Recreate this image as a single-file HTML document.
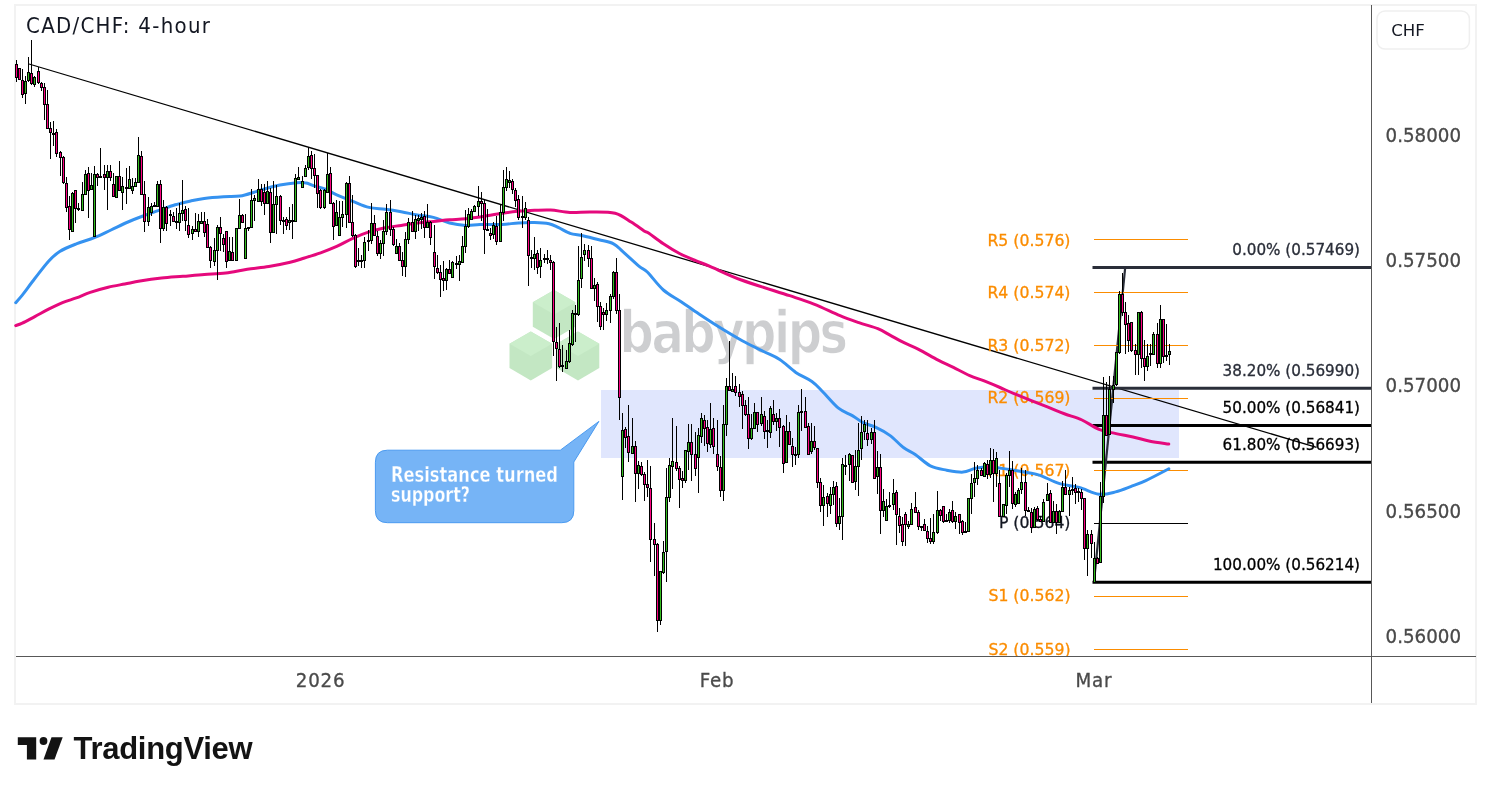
<!DOCTYPE html>
<html><head><meta charset="utf-8"><title>CAD/CHF: 4-hour</title>
<style>
html,body{margin:0;padding:0;background:#fff;}
body{width:1491px;height:794px;overflow:hidden;position:relative;}
svg{position:absolute;left:0;top:0;display:block;}
.ax{font-family:"DejaVu Sans Condensed","DejaVu Sans",sans-serif;font-stretch:condensed;font-size:20.3px;fill:#4a4a4a;stroke:#4a4a4a;stroke-width:0.3px;}
.fib{font-family:"DejaVu Sans",sans-serif;font-size:15.2px;stroke-width:0.3px;}
.piv{font-family:"DejaVu Sans",sans-serif;font-size:15.7px;fill:#fb8c00;stroke:#fb8c00;stroke-width:0.3px;}
</style></head>
<body>
<svg width="1491" height="794" viewBox="0 0 1491 794">
<rect x="0" y="0" width="1491" height="794" fill="#fff"/>
<rect x="15" y="5" width="1461" height="699" fill="#fff" stroke="#f2f2f2" stroke-width="2"/>
<!-- watermark -->
<g>
 <g fill="#c3e7c3">
  <polygon points="554.1,290 575.4,302.3 575.4,326.7 554.1,339 532.8,326.7 532.8,302.3"/>
  <polygon points="530.8,331.4 552.1,343.7 552.1,368.1 530.8,380.4 509.5,368.1 509.5,343.7"/>
  <polygon points="578,331.4 599.3,343.7 599.3,368.1 578,380.4 556.7,368.1 556.7,343.7"/>
 </g>
 <g fill="#cbeecb">
  <polygon points="554.1,290 575.4,302.3 554.1,314.6 532.8,302.3"/>
  <polygon points="530.8,331.4 552.1,343.7 530.8,356 509.5,343.7"/>
  <polygon points="578,331.4 599.3,343.7 578,356 556.7,343.7"/>
 </g>
 <text x="619.3" y="353" textLength="226" lengthAdjust="spacingAndGlyphs" style="font-family:'DejaVu Sans',sans-serif;font-weight:bold;font-size:58px;fill:#cdced0;stroke:#fff;stroke-width:1.6px;stroke-linejoin:round;letter-spacing:-3.5px">babypips</text>
</g>
<!-- zone -->
<rect x="601" y="390" width="578" height="68" fill="#e0e6fd"/>
<!-- trendline -->
<line x1="29" y1="64" x2="1316.5" y2="447.4" stroke="#000" stroke-width="1.3"/>
<!-- fib -->
<g stroke-width="3">
 <line x1="1092.5" y1="267.5" x2="1371" y2="267.5" stroke="#2a2e39"/>
 <line x1="1092.5" y1="388.3" x2="1371" y2="388.3" stroke="#2a2e39"/>
 <line x1="1092.5" y1="425.4" x2="1371" y2="425.4" stroke="#000"/>
 <line x1="1092.5" y1="462.3" x2="1371" y2="462.3" stroke="#000"/>
 <line x1="1092.5" y1="582.2" x2="1371" y2="582.2" stroke="#000"/>
</g>
<line x1="1094" y1="581.8" x2="1125.2" y2="267.4" stroke="#2a2e39" stroke-width="2.2"/>
<!-- pivots -->
<g stroke="#fb8c00" stroke-width="1">
 <line x1="1094" y1="239.5" x2="1188" y2="239.5"/>
 <line x1="1094" y1="292.5" x2="1188" y2="292.5"/>
 <line x1="1094" y1="345.5" x2="1188" y2="345.5"/>
 <line x1="1094" y1="398.5" x2="1188" y2="398.5"/>
 <line x1="1094" y1="470.5" x2="1188" y2="470.5"/>
 <line x1="1094" y1="596.5" x2="1188" y2="596.5"/>
 <line x1="1094" y1="649.5" x2="1188" y2="649.5"/>
</g>
<line x1="1094" y1="523.5" x2="1188" y2="523.5" stroke="#000" stroke-width="1"/>
<g class="piv" text-anchor="end">
 <text x="1070.5" y="245.9">R5 (0.576)</text>
 <text x="1070.5" y="297.7">R4 (0.574)</text>
 <text x="1070.5" y="350.9">R3 (0.572)</text>
 <text x="1070.5" y="403">R2 (0.569)</text>
 <text x="1070.5" y="476.1">R1 (0.567)</text>
 <text x="1070.5" y="528.4" style="fill:#131722;stroke:#131722">P (0.564)</text>
 <text x="1070.5" y="600.9">S1 (0.562)</text>
 <text x="1070.5" y="654.5">S2 (0.559)</text>
</g>
<!-- MAs -->
<path d="M15.7 302.7 C16.8 301.4 19.1 299.1 22.3 295.1 C25.5 291.1 30.4 284.1 34.8 278.5 C39.2 272.9 44.5 265.7 48.6 261.2 C52.8 256.7 55.1 254.4 59.7 251.5 C64.3 248.6 70.5 246.2 76.3 243.9 C82.1 241.6 88.6 239.9 94.4 237.6 C100.2 235.3 105.6 232.5 111 230 C116.4 227.5 121.5 224.8 126.8 222.5 C132.1 220.2 137.6 218 143 216 C148.4 214 153.6 212.3 159 210.4 C164.4 208.5 169.8 206.4 175.2 204.8 C180.6 203.2 186.5 201.9 191.3 200.8 C196.1 199.7 198.8 199.1 204.2 198.4 C209.6 197.7 217.5 197.1 223.5 196.7 C229.5 196.3 234.6 196.9 240 196.1 C245.4 195.2 250.7 193.2 256.1 191.6 C261.5 190 266.8 188 272.2 186.7 C277.6 185.4 283 184.5 288.4 183.8 C293.8 183.1 300.2 182.3 304.5 182.7 C308.8 183 310.6 184.8 314.1 185.9 C317.6 187 321.6 187.7 325.4 189.2 C329.2 190.7 332.1 192.8 336.7 194.8 C341.3 196.8 347.4 199.2 352.8 201.3 C358.2 203.4 363.6 206.1 369 207.4 C374.4 208.7 379.7 208.6 385.1 209.3 C390.5 210 395.8 210.8 401.2 211.7 C406.6 212.6 411.9 214.1 417.3 215 C422.7 215.9 428 216.1 433.4 217.4 C438.8 218.7 444.1 221.7 449.5 223 C454.9 224.3 460.6 225.1 465.7 225.4 C470.8 225.7 473.9 224.8 480 224.6 C486.1 224.4 495.8 224.8 502.2 224.5 C508.6 224.2 513 223.2 518.4 222.9 C523.8 222.6 529.4 222.4 534.5 222.5 C539.6 222.6 545 222.8 549 223.7 C553 224.6 555.2 226.1 558.7 227.7 C562.2 229.3 565.9 232 569.9 233.3 C573.9 234.7 577.9 234.7 582.8 235.8 C587.6 236.9 593.9 238.5 599 239.8 C604.1 241.1 609.5 241.8 613.5 243.8 C617.5 245.8 618.8 248.1 623.1 251.9 C627.4 255.7 635.2 263 639.2 266.4 C643.2 269.8 643.3 268.1 647.3 272 C651.3 275.9 657.8 285.1 663.4 290 C669 294.9 675.2 297.7 681.1 301.7 C687 305.7 692.4 309.6 699 314 C705.6 318.4 713.5 323.6 720.7 328 C727.9 332.4 735.1 336.8 742.2 340.7 C749.4 344.6 757.4 348.4 763.6 351.5 C769.9 354.6 774.3 356 779.7 359.5 C785.1 363 790.4 368.7 795.8 372.4 C801.2 376.1 807.4 378.3 811.9 381.5 C816.4 384.7 818.3 387.2 822.7 391.7 C827.1 396.1 833.6 404.2 838.5 408.2 C843.4 412.2 848.2 413.2 852.3 415.6 C856.4 418 859.1 420.6 863 422.6 C866.9 424.6 871.4 425.3 875.9 427.4 C880.4 429.5 885.1 432 889.8 435.4 C894.4 438.8 899.6 444.6 903.8 447.8 C908 451 910.8 451.4 915.2 454.4 C919.6 457.4 925 463.2 930.3 465.8 C935.5 468.4 941.2 469.1 946.7 470.2 C952.2 471.2 958.2 472.4 963 472.1 C967.8 471.8 971 469.2 975.6 468.3 C980.2 467.4 985.1 466.8 990.8 467 C996.5 467.2 1003.3 468.7 1009.6 469.6 C1015.9 470.6 1023.4 471.8 1028.5 472.7 C1033.6 473.6 1034.8 473.5 1040 475.3 C1045.2 477.1 1053 481.6 1059.6 483.6 C1066.1 485.6 1072.8 485.6 1079.3 487.4 C1085.8 489.2 1092.9 493.4 1098.9 494.2 C1105 494.9 1110.3 493.2 1115.6 491.9 C1120.9 490.6 1125.7 488.5 1130.7 486.6 C1135.7 484.7 1139.5 483.6 1145.8 480.6 C1152.1 477.6 1165 470.8 1168.8 468.8" fill="none" stroke="#3592f0" stroke-width="3" stroke-linejoin="round" stroke-linecap="round"/>
<path d="M15.7 325.6 C16.8 325.2 19.1 324.6 22.3 323.1 C25.5 321.6 30.4 318.9 34.8 316.6 C39.2 314.3 44 311.5 48.6 309.2 C53.2 306.9 57.9 304.6 62.5 302.7 C67.1 300.8 71.7 299.6 76.3 297.9 C80.9 296.2 84.9 294.1 90.2 292.3 C95.5 290.5 102.4 288.6 108.2 287.2 C114 285.8 119.5 285 124.8 284 C130.1 283 133.9 282.1 140 281.1 C146.1 280.1 154.3 278.9 161.5 278.1 C168.7 277.3 175.8 276.9 182.9 276.3 C190.1 275.7 197.2 275 204.4 274.5 C211.6 274 218.7 274 225.8 273.1 C233 272.2 240.1 270.4 247.3 269.3 C254.5 268.2 261.7 267.8 268.8 266.6 C275.9 265.4 284.2 263.7 290.2 262.3 C296.1 260.9 299.4 259.6 304.5 258 C309.6 256.4 315.2 254.7 320.6 252.8 C326 250.9 331.3 248.8 336.7 246.4 C342.1 244 347.4 240.7 352.8 238.3 C358.2 235.9 363.6 233.7 369 231.9 C374.4 230.2 379.7 228.9 385.1 227.8 C390.5 226.7 395.8 226.2 401.2 225.4 C406.6 224.6 411.9 223.7 417.3 223 C422.7 222.3 428 221.9 433.4 221.4 C438.8 220.9 444.1 220.2 449.5 219.8 C454.9 219.4 460.6 219.2 465.7 218.7 C470.8 218.2 473.9 217.9 480 217 C486.1 216.1 495.8 214.1 502.2 213.2 C508.6 212.2 513 211.8 518.4 211.3 C523.8 210.8 529.1 210.5 534.5 210.3 C539.9 210.1 544.7 209.7 550.6 210 C556.5 210.3 563.2 212.1 569.9 212.4 C576.6 212.7 583.4 211.8 590.9 211.9 C598.4 212 608.4 211.5 615.1 213.2 C621.8 214.9 626.4 219.1 631.2 222.1 C636 225.1 641.2 229 644.1 230.9 C647 232.8 645.7 231.2 648.9 233.3 C652.1 235.5 658.3 240.4 663.4 243.8 C668.5 247.2 674.1 250.7 679.5 253.5 C684.9 256.3 690.6 258.6 695.7 260.7 C700.8 262.8 702.4 263.2 710 266.4 C717.6 269.6 728.1 275.1 741.4 280 C754.7 284.9 777.6 291.7 789.7 295.7 C801.8 299.7 805.5 300.8 813.9 304.1 C822.3 307.4 832.5 312.6 840 315.7 C847.5 318.8 852.6 320.5 858.9 322.7 C865.2 324.9 872.5 326.6 877.8 328.7 C883 330.8 886.2 333.1 890.4 335.3 C894.6 337.6 898.4 339.9 903 342.2 C907.6 344.5 912.2 346.1 918.1 349.1 C924 352.1 932.3 357.1 938.2 360.2 C944.1 363.2 948.1 364.8 953.4 367.4 C958.6 370 964.5 373.3 969.7 375.6 C974.9 377.9 979.8 379.2 984.8 381.2 C989.8 383.2 995.1 385.4 1000 387.5 C1004.9 389.6 1006 390.3 1014 393.6 C1022 396.9 1039.5 403.8 1048 407.2 C1056.5 410.6 1059.3 411.9 1065 414 C1070.7 416.1 1076.3 417.4 1082 420 C1087.7 422.6 1093.3 427 1099 429.3 C1104.7 431.6 1110.3 432.3 1116 433.6 C1121.7 434.9 1127.3 435.7 1133 437 C1138.7 438.3 1144 440 1150 441.2 C1156 442.4 1165.7 443.6 1168.8 444.1" fill="none" stroke="#e5097c" stroke-width="3" stroke-linejoin="round" stroke-linecap="round"/>
<!-- candles -->
<path fill="#000" d="M16 60h1v22h-1zM19 68h1v12h-1zM22 69h1v29h-1zM25 76h1v28h-1zM28 57h1v25h-1zM31 40h1v45h-1zM34 76h1v11h-1zM38 67h1v17h-1zM41 82h1v9h-1zM44 83h1v37h-1zM47 90h1v38h-1zM50 122h1v37h-1zM53 121h1v25h-1zM56 129h1v28h-1zM60 151h1v25h-1zM63 156h1v28h-1zM66 177h1v35h-1zM69 196h1v44h-1zM72 192h1v39h-1zM75 190h1v33h-1zM78 203h1v8h-1zM82 182h1v28h-1zM85 170h1v24h-1zM88 167h1v51h-1zM91 173h1v16h-1zM94 166h1v70h-1zM97 173h1v13h-1zM100 148h1v29h-1zM104 165h1v25h-1zM107 165h1v45h-1zM110 165h1v16h-1zM113 173h1v23h-1zM116 176h1v21h-1zM119 161h1v29h-1zM122 177h1v33h-1zM126 168h1v36h-1zM129 166h1v22h-1zM132 178h1v16h-1zM135 178h1v8h-1zM138 137h1v45h-1zM141 151h1v43h-1zM144 181h1v51h-1zM148 197h1v29h-1zM151 203h1v13h-1zM154 202h1v4h-1zM157 181h1v25h-1zM160 180h1v63h-1zM163 200h1v31h-1zM166 206h1v25h-1zM170 210h1v16h-1zM173 212h1v10h-1zM176 208h1v21h-1zM179 203h1v28h-1zM182 180h1v41h-1zM185 206h1v25h-1zM188 208h1v30h-1zM192 226h1v14h-1zM195 213h1v18h-1zM198 214h1v23h-1zM201 212h1v11h-1zM204 212h1v25h-1zM207 219h1v28h-1zM210 246h1v22h-1zM214 238h1v28h-1zM217 225h1v55h-1zM220 217h1v34h-1zM223 234h1v18h-1zM226 231h1v37h-1zM229 237h1v23h-1zM232 237h1v23h-1zM236 228h1v33h-1zM239 199h1v29h-1zM242 214h1v8h-1zM245 214h1v44h-1zM248 227h1v4h-1zM251 189h1v38h-1zM254 195h1v26h-1zM258 179h1v22h-1zM261 184h1v22h-1zM264 184h1v31h-1zM267 181h1v22h-1zM270 188h1v55h-1zM273 181h1v51h-1zM276 185h1v49h-1zM280 195h1v30h-1zM283 217h1v17h-1zM286 217h1v13h-1zM289 207h1v23h-1zM292 204h1v35h-1zM295 174h1v47h-1zM298 167h1v12h-1zM302 176h1v11h-1zM305 165h1v11h-1zM308 147h1v23h-1zM311 151h1v28h-1zM314 154h1v34h-1zM317 175h1v33h-1zM320 189h1v20h-1zM324 189h1v20h-1zM327 153h1v39h-1zM330 167h1v36h-1zM333 202h1v38h-1zM336 200h1v25h-1zM339 201h1v34h-1zM342 201h1v26h-1zM346 182h1v46h-1zM349 176h1v46h-1zM352 195h1v42h-1zM355 234h1v34h-1zM358 248h1v18h-1zM361 255h1v13h-1zM364 237h1v31h-1zM368 230h1v21h-1zM371 203h1v41h-1zM374 215h1v20h-1zM377 231h1v25h-1zM380 240h1v19h-1zM383 220h1v36h-1zM386 204h1v31h-1zM390 200h1v36h-1zM393 227h1v19h-1zM396 239h1v14h-1zM399 243h1v17h-1zM402 252h1v24h-1zM405 232h1v45h-1zM408 218h1v26h-1zM412 211h1v20h-1zM415 215h1v24h-1zM418 215h1v16h-1zM421 213h1v16h-1zM424 211h1v27h-1zM427 204h1v23h-1zM430 221h1v24h-1zM434 225h1v54h-1zM437 255h1v19h-1zM440 265h1v32h-1zM443 261h1v30h-1zM446 268h1v22h-1zM449 260h1v14h-1zM452 261h1v16h-1zM456 256h1v13h-1zM459 255h1v26h-1zM462 236h1v26h-1zM465 210h1v43h-1zM468 208h1v20h-1zM471 209h1v10h-1zM474 205h1v6h-1zM478 186h1v30h-1zM481 192h1v29h-1zM484 200h1v54h-1zM487 209h1v22h-1zM490 228h1v12h-1zM493 222h1v17h-1zM496 216h1v29h-1zM500 205h1v36h-1zM503 170h1v51h-1zM506 167h1v24h-1zM509 171h1v17h-1zM512 179h1v15h-1zM515 188h1v19h-1zM518 195h1v25h-1zM522 196h1v32h-1zM525 202h1v18h-1zM528 217h1v69h-1zM531 250h1v18h-1zM534 237h1v33h-1zM537 250h1v24h-1zM540 248h1v30h-1zM544 254h1v9h-1zM547 250h1v14h-1zM550 255h1v15h-1zM553 261h1v95h-1zM556 327h1v54h-1zM559 323h1v45h-1zM562 345h1v27h-1zM566 350h1v18h-1zM569 330h1v33h-1zM572 310h1v36h-1zM575 305h1v37h-1zM578 246h1v70h-1zM581 233h1v55h-1zM584 244h1v17h-1zM588 245h1v22h-1zM591 246h1v43h-1zM594 278h1v23h-1zM597 282h1v40h-1zM600 302h1v28h-1zM603 308h1v22h-1zM606 303h1v18h-1zM610 294h1v29h-1zM613 271h1v28h-1zM616 258h1v56h-1zM619 294h1v126h-1zM622 413h1v87h-1zM625 427h1v21h-1zM628 405h1v57h-1zM632 418h1v35h-1zM635 441h1v61h-1zM638 461h1v28h-1zM641 462h1v14h-1zM644 472h1v29h-1zM647 460h1v37h-1zM650 466h1v96h-1zM654 523h1v53h-1zM657 543h1v89h-1zM660 571h1v54h-1zM663 541h1v33h-1zM666 468h1v114h-1zM669 458h1v44h-1zM672 418h1v71h-1zM676 426h1v45h-1zM679 466h1v42h-1zM682 471h1v17h-1zM685 450h1v33h-1zM688 424h1v46h-1zM691 424h1v57h-1zM695 432h1v44h-1zM698 428h1v65h-1zM701 413h1v30h-1zM704 415h1v31h-1zM707 420h1v32h-1zM710 403h1v45h-1zM713 418h1v36h-1zM717 420h1v51h-1zM720 456h1v41h-1zM723 405h1v96h-1zM726 378h1v58h-1zM729 341h1v49h-1zM732 373h1v19h-1zM735 376h1v20h-1zM739 384h1v23h-1zM742 391h1v38h-1zM745 400h1v16h-1zM748 397h1v52h-1zM751 414h1v26h-1zM754 403h1v25h-1zM757 412h1v20h-1zM761 397h1v29h-1zM764 411h1v28h-1zM767 420h1v28h-1zM770 406h1v32h-1zM773 400h1v25h-1zM776 413h1v18h-1zM779 409h1v38h-1zM783 425h1v48h-1zM786 415h1v47h-1zM789 422h1v22h-1zM792 438h1v29h-1zM795 447h1v18h-1zM798 405h1v53h-1zM801 389h1v42h-1zM805 397h1v30h-1zM808 423h1v31h-1zM811 423h1v31h-1zM814 426h1v24h-1zM817 448h1v40h-1zM820 478h1v34h-1zM823 485h1v41h-1zM827 493h1v24h-1zM830 487h1v27h-1zM833 481h1v24h-1zM836 482h1v45h-1zM839 498h1v32h-1zM842 458h1v82h-1zM845 455h1v20h-1zM849 453h1v28h-1zM852 455h1v27h-1zM855 450h1v40h-1zM858 423h1v73h-1zM861 416h1v44h-1zM864 420h1v20h-1zM867 420h1v26h-1zM871 428h1v16h-1zM874 420h1v58h-1zM877 451h1v43h-1zM880 454h1v80h-1zM883 489h1v28h-1zM886 499h1v21h-1zM889 492h1v16h-1zM893 479h1v31h-1zM896 490h1v55h-1zM899 508h1v25h-1zM902 517h1v29h-1zM905 512h1v34h-1zM908 521h1v8h-1zM911 503h1v21h-1zM915 492h1v20h-1zM918 510h1v20h-1zM921 526h1v5h-1zM924 519h1v12h-1zM927 526h1v17h-1zM930 518h1v26h-1zM933 514h1v30h-1zM937 491h1v43h-1zM940 509h1v12h-1zM943 506h1v17h-1zM946 514h1v7h-1zM949 509h1v14h-1zM952 501h1v22h-1zM955 512h1v17h-1zM959 514h1v20h-1zM962 520h1v15h-1zM965 522h1v11h-1zM968 498h1v34h-1zM971 474h1v40h-1zM974 462h1v35h-1zM977 465h1v20h-1zM981 468h1v8h-1zM984 462h1v14h-1zM987 460h1v19h-1zM990 448h1v30h-1zM993 449h1v53h-1zM996 452h1v35h-1zM999 470h1v46h-1zM1003 504h1v12h-1zM1006 473h1v41h-1zM1009 451h1v36h-1zM1012 461h1v48h-1zM1015 492h1v15h-1zM1018 488h1v15h-1zM1021 468h1v26h-1zM1025 470h1v46h-1zM1028 507h1v5h-1zM1031 508h1v25h-1zM1034 507h1v21h-1zM1037 506h1v15h-1zM1040 516h1v6h-1zM1043 499h1v22h-1zM1047 483h1v18h-1zM1050 490h1v32h-1zM1053 501h1v21h-1zM1056 504h1v30h-1zM1059 510h1v12h-1zM1062 481h1v30h-1zM1065 470h1v24h-1zM1069 487h1v29h-1zM1072 477h1v18h-1zM1075 484h1v20h-1zM1078 488h1v14h-1zM1081 489h1v21h-1zM1084 498h1v62h-1zM1087 530h1v46h-1zM1091 530h1v28h-1zM1094 542h1v40h-1zM1097 557h1v7h-1zM1100 482h1v80h-1zM1103 377h1v126h-1zM1106 382h1v53h-1zM1109 376h1v58h-1zM1113 376h1v27h-1zM1116 352h1v34h-1zM1119 291h1v63h-1zM1122 273h1v43h-1zM1125 302h1v52h-1zM1128 315h1v37h-1zM1131 322h1v30h-1zM1135 344h1v31h-1zM1138 312h1v63h-1zM1141 311h1v57h-1zM1144 340h1v41h-1zM1147 344h1v27h-1zM1150 344h1v22h-1zM1153 332h1v22h-1zM1157 323h1v45h-1zM1160 305h1v63h-1zM1163 319h1v44h-1zM1166 324h1v37h-1zM1169 344h1v21h-1z"/><path fill="#000" d="M15 64h3v14h-3zM18 68h3v12h-3zM21 80h3v15h-3zM24 81h3v13h-3zM27 72h3v9h-3zM30 73h3v11h-3zM33 77h3v8h-3zM37 71h3v12h-3zM40 83h3v5h-3zM43 87h3v18h-3zM46 104h3v25h-3zM49 128h3v5h-3zM52 133h3v2h-3zM55 132h3v22h-3zM59 152h3v6h-3zM62 157h3v26h-3zM65 183h3v25h-3zM68 206h3v24h-3zM71 193h3v39h-3zM74 190h3v19h-3zM77 208h3v2h-3zM81 194h3v17h-3zM84 174h3v21h-3zM87 173h3v18h-3zM90 185h3v5h-3zM93 174h3v63h-3zM96 174h3v4h-3zM99 176h3v2h-3zM103 174h3v4h-3zM106 171h3v7h-3zM109 171h3v7h-3zM112 184h3v13h-3zM115 176h3v22h-3zM118 176h3v15h-3zM121 186h3v7h-3zM125 187h3v2h-3zM128 179h3v10h-3zM131 186h3v5h-3zM134 182h3v5h-3zM137 155h3v28h-3zM140 156h3v39h-3zM143 194h3v28h-3zM147 207h3v15h-3zM150 206h3v7h-3zM153 205h3v2h-3zM156 184h3v23h-3zM159 184h3v45h-3zM162 207h3v22h-3zM165 207h3v17h-3zM169 214h3v2h-3zM172 216h3v6h-3zM175 221h3v2h-3zM178 213h3v10h-3zM181 210h3v4h-3zM184 209h3v12h-3zM187 225h3v10h-3zM191 229h3v5h-3zM194 229h3v3h-3zM197 221h3v11h-3zM200 221h3v3h-3zM203 221h3v12h-3zM206 224h3v24h-3zM209 247h3v14h-3zM213 250h3v12h-3zM216 227h3v24h-3zM219 227h3v7h-3zM222 238h3v7h-3zM225 231h3v31h-3zM228 251h3v10h-3zM231 252h3v9h-3zM235 228h3v33h-3zM238 215h3v14h-3zM241 215h3v8h-3zM244 228h3v31h-3zM247 227h3v2h-3zM250 200h3v28h-3zM253 198h3v3h-3zM257 189h3v13h-3zM260 189h3v13h-3zM263 192h3v12h-3zM266 191h3v13h-3zM269 192h3v41h-3zM272 204h3v29h-3zM275 196h3v9h-3zM279 196h3v25h-3zM282 220h3v2h-3zM285 219h3v7h-3zM288 220h3v3h-3zM291 220h3v2h-3zM294 178h3v44h-3zM297 177h3v3h-3zM301 181h3v7h-3zM304 168h3v9h-3zM307 156h3v12h-3zM310 155h3v14h-3zM313 168h3v8h-3zM316 175h3v19h-3zM319 190h3v18h-3zM323 190h3v18h-3zM326 174h3v19h-3zM329 173h3v31h-3zM332 203h3v24h-3zM335 212h3v14h-3zM338 217h3v19h-3zM341 214h3v4h-3zM345 183h3v32h-3zM348 183h3v40h-3zM351 222h3v14h-3zM354 235h3v32h-3zM357 260h3v2h-3zM360 260h3v2h-3zM363 242h3v19h-3zM367 240h3v2h-3zM370 223h3v18h-3zM373 223h3v13h-3zM376 236h3v18h-3zM379 243h3v11h-3zM382 231h3v13h-3zM385 212h3v20h-3zM389 212h3v18h-3zM392 229h3v16h-3zM395 246h3v8h-3zM398 246h3v15h-3zM401 260h3v7h-3zM404 239h3v28h-3zM407 222h3v18h-3zM411 222h3v10h-3zM414 219h3v13h-3zM417 218h3v3h-3zM420 217h3v3h-3zM423 216h3v12h-3zM426 222h3v6h-3zM429 222h3v16h-3zM433 252h3v15h-3zM436 268h3v5h-3zM439 272h3v8h-3zM442 278h3v3h-3zM445 269h3v12h-3zM448 269h3v5h-3zM451 262h3v16h-3zM455 263h3v2h-3zM458 261h3v4h-3zM461 246h3v17h-3zM464 226h3v21h-3zM467 214h3v13h-3zM470 211h3v9h-3zM473 206h3v6h-3zM477 201h3v6h-3zM480 201h3v3h-3zM483 203h3v27h-3zM486 229h3v2h-3zM489 233h3v3h-3zM492 225h3v10h-3zM495 226h3v16h-3zM499 212h3v30h-3zM502 187h3v26h-3zM505 179h3v9h-3zM508 180h3v3h-3zM511 181h3v9h-3zM514 190h3v11h-3zM517 199h3v19h-3zM521 216h3v2h-3zM524 208h3v10h-3zM527 220h3v36h-3zM530 257h3v2h-3zM533 254h3v5h-3zM536 253h3v15h-3zM539 260h3v7h-3zM543 258h3v2h-3zM546 258h3v2h-3zM549 260h3v3h-3zM552 262h3v80h-3zM555 342h3v7h-3zM558 349h3v18h-3zM561 365h3v2h-3zM565 361h3v8h-3zM568 343h3v19h-3zM571 313h3v32h-3zM574 313h3v2h-3zM577 280h3v35h-3zM580 257h3v22h-3zM583 250h3v5h-3zM587 250h3v9h-3zM590 258h3v31h-3zM593 285h3v4h-3zM596 284h3v23h-3zM599 306h3v21h-3zM602 312h3v3h-3zM605 310h3v5h-3zM609 296h3v15h-3zM612 272h3v25h-3zM615 272h3v39h-3zM618 310h3v88h-3zM621 430h3v47h-3zM624 429h3v9h-3zM627 436h3v17h-3zM631 446h3v8h-3zM634 446h3v28h-3zM637 465h3v9h-3zM640 466h3v9h-3zM643 474h3v11h-3zM646 484h3v4h-3zM649 488h3v52h-3zM653 539h3v6h-3zM656 544h3v77h-3zM659 571h3v50h-3zM662 552h3v21h-3zM665 497h3v55h-3zM668 465h3v33h-3zM671 461h3v6h-3zM675 462h3v7h-3zM678 468h3v12h-3zM681 478h3v3h-3zM684 450h3v31h-3zM687 442h3v10h-3zM690 442h3v13h-3zM694 454h3v15h-3zM697 435h3v23h-3zM700 418h3v19h-3zM703 420h3v9h-3zM706 427h3v17h-3zM709 429h3v16h-3zM712 428h3v19h-3zM716 454h3v13h-3zM719 467h3v24h-3zM722 424h3v67h-3zM725 386h3v39h-3zM728 386h3v5h-3zM731 389h3v3h-3zM734 386h3v7h-3zM738 392h3v5h-3zM741 394h3v12h-3zM744 405h3v10h-3zM747 414h3v25h-3zM750 428h3v11h-3zM753 412h3v17h-3zM756 412h3v13h-3zM760 414h3v10h-3zM763 416h3v16h-3zM766 430h3v2h-3zM769 408h3v25h-3zM772 414h3v8h-3zM775 418h3v4h-3zM778 418h3v10h-3zM782 426h3v38h-3zM785 431h3v32h-3zM788 431h3v14h-3zM791 446h3v9h-3zM794 454h3v2h-3zM797 412h3v43h-3zM800 411h3v2h-3zM804 411h3v17h-3zM807 426h3v29h-3zM810 441h3v11h-3zM813 441h3v7h-3zM816 448h3v35h-3zM819 482h3v24h-3zM822 497h3v9h-3zM826 496h3v8h-3zM829 494h3v12h-3zM832 487h3v8h-3zM835 486h3v38h-3zM838 516h3v8h-3zM841 464h3v53h-3zM844 465h3v2h-3zM848 454h3v11h-3zM851 455h3v28h-3zM854 466h3v16h-3zM857 450h3v17h-3zM860 432h3v17h-3zM863 424h3v8h-3zM866 433h3v7h-3zM870 432h3v8h-3zM873 432h3v47h-3zM876 467h3v10h-3zM879 467h3v44h-3zM882 501h3v10h-3zM885 506h3v15h-3zM888 505h3v2h-3zM892 493h3v12h-3zM895 492h3v23h-3zM898 516h3v10h-3zM901 524h3v18h-3zM904 514h3v11h-3zM907 524h3v3h-3zM910 509h3v16h-3zM914 507h3v6h-3zM917 512h3v15h-3zM920 526h3v2h-3zM923 524h3v7h-3zM926 531h3v8h-3zM929 538h3v4h-3zM932 532h3v10h-3zM936 510h3v23h-3zM939 510h3v6h-3zM942 506h3v16h-3zM945 520h3v2h-3zM948 512h3v9h-3zM951 510h3v12h-3zM954 516h3v6h-3zM958 514h3v9h-3zM961 521h3v12h-3zM964 531h3v2h-3zM967 498h3v34h-3zM970 483h3v16h-3zM973 478h3v5h-3zM976 470h3v9h-3zM980 470h3v6h-3zM983 463h3v14h-3zM986 464h3v11h-3zM989 460h3v15h-3zM992 460h3v14h-3zM995 458h3v16h-3zM998 483h3v34h-3zM1002 504h3v13h-3zM1005 475h3v31h-3zM1008 470h3v6h-3zM1011 470h3v34h-3zM1014 494h3v11h-3zM1017 490h3v14h-3zM1020 482h3v8h-3zM1024 482h3v29h-3zM1027 510h3v2h-3zM1030 512h3v16h-3zM1033 509h3v19h-3zM1036 508h3v12h-3zM1039 519h3v3h-3zM1042 502h3v20h-3zM1046 494h3v7h-3zM1049 493h3v30h-3zM1052 511h3v12h-3zM1055 511h3v12h-3zM1058 511h3v12h-3zM1061 487h3v25h-3zM1064 487h3v8h-3zM1068 490h3v5h-3zM1071 489h3v2h-3zM1074 488h3v5h-3zM1077 491h3v2h-3zM1080 492h3v7h-3zM1083 498h3v51h-3zM1086 534h3v15h-3zM1090 534h3v10h-3zM1093 558h3v25h-3zM1096 558h3v6h-3zM1099 496h3v67h-3zM1102 415h3v82h-3zM1105 415h3v21h-3zM1108 389h3v46h-3zM1112 385h3v5h-3zM1115 352h3v33h-3zM1118 294h3v59h-3zM1121 294h3v19h-3zM1124 312h3v13h-3zM1127 323h3v18h-3zM1130 322h3v29h-3zM1134 350h3v5h-3zM1137 312h3v43h-3zM1140 312h3v47h-3zM1143 358h3v9h-3zM1146 356h3v11h-3zM1149 353h3v2h-3zM1152 334h3v21h-3zM1156 334h3v30h-3zM1159 319h3v45h-3zM1162 319h3v38h-3zM1165 355h3v2h-3zM1168 351h3v4h-3z"/><path fill="#33bd1f" d="M25 82h1v11h-1zM28 73h1v7h-1zM34 78h1v6h-1zM72 194h1v37h-1zM82 195h1v15h-1zM85 175h1v19h-1zM91 186h1v3h-1zM94 175h1v61h-1zM107 172h1v5h-1zM116 177h1v20h-1zM122 187h1v5h-1zM129 180h1v8h-1zM132 187h1v3h-1zM135 183h1v3h-1zM138 156h1v26h-1zM148 208h1v13h-1zM151 207h1v5h-1zM157 185h1v21h-1zM163 208h1v20h-1zM179 214h1v8h-1zM182 211h1v2h-1zM192 230h1v3h-1zM198 222h1v9h-1zM201 222h1v1h-1zM214 251h1v10h-1zM217 228h1v22h-1zM229 252h1v8h-1zM236 229h1v31h-1zM239 216h1v12h-1zM245 229h1v29h-1zM251 201h1v26h-1zM254 199h1v1h-1zM258 190h1v11h-1zM267 192h1v11h-1zM273 205h1v27h-1zM276 197h1v7h-1zM289 221h1v1h-1zM295 179h1v42h-1zM298 178h1v1h-1zM302 182h1v5h-1zM305 169h1v7h-1zM308 157h1v10h-1zM324 191h1v16h-1zM327 175h1v17h-1zM336 213h1v12h-1zM339 218h1v17h-1zM342 215h1v2h-1zM346 184h1v30h-1zM364 243h1v17h-1zM371 224h1v16h-1zM380 244h1v9h-1zM383 232h1v11h-1zM386 213h1v18h-1zM396 247h1v6h-1zM405 240h1v26h-1zM408 223h1v16h-1zM415 220h1v11h-1zM418 219h1v1h-1zM421 218h1v1h-1zM427 223h1v4h-1zM446 270h1v10h-1zM452 263h1v14h-1zM459 262h1v2h-1zM462 247h1v15h-1zM465 227h1v19h-1zM468 215h1v11h-1zM471 212h1v7h-1zM474 207h1v4h-1zM478 202h1v4h-1zM493 226h1v8h-1zM500 213h1v28h-1zM503 188h1v24h-1zM506 180h1v7h-1zM509 181h1v1h-1zM525 209h1v8h-1zM534 255h1v3h-1zM540 261h1v5h-1zM566 362h1v6h-1zM569 344h1v17h-1zM572 314h1v30h-1zM578 281h1v33h-1zM581 258h1v20h-1zM584 251h1v3h-1zM594 286h1v2h-1zM606 311h1v3h-1zM610 297h1v13h-1zM613 273h1v23h-1zM622 431h1v45h-1zM632 447h1v6h-1zM638 466h1v7h-1zM660 572h1v48h-1zM663 553h1v19h-1zM666 498h1v53h-1zM669 466h1v31h-1zM672 462h1v4h-1zM685 451h1v29h-1zM688 443h1v8h-1zM698 436h1v21h-1zM701 419h1v17h-1zM710 430h1v14h-1zM723 425h1v65h-1zM726 387h1v37h-1zM732 390h1v1h-1zM751 429h1v9h-1zM754 413h1v15h-1zM761 415h1v8h-1zM770 409h1v23h-1zM776 419h1v2h-1zM786 432h1v30h-1zM798 413h1v41h-1zM811 442h1v9h-1zM823 498h1v7h-1zM830 495h1v10h-1zM833 488h1v6h-1zM839 517h1v6h-1zM842 465h1v51h-1zM849 455h1v9h-1zM855 467h1v14h-1zM858 451h1v15h-1zM861 433h1v15h-1zM864 425h1v6h-1zM871 433h1v6h-1zM877 468h1v8h-1zM883 502h1v8h-1zM886 507h1v13h-1zM893 494h1v10h-1zM908 525h1v1h-1zM911 510h1v14h-1zM933 533h1v8h-1zM937 511h1v21h-1zM949 513h1v7h-1zM955 517h1v4h-1zM968 499h1v32h-1zM971 484h1v14h-1zM974 479h1v3h-1zM977 471h1v7h-1zM984 464h1v12h-1zM990 461h1v13h-1zM996 459h1v14h-1zM1003 505h1v11h-1zM1006 476h1v29h-1zM1009 471h1v4h-1zM1015 495h1v9h-1zM1018 491h1v12h-1zM1021 483h1v6h-1zM1034 510h1v17h-1zM1043 503h1v18h-1zM1047 495h1v5h-1zM1053 512h1v10h-1zM1059 512h1v10h-1zM1062 488h1v23h-1zM1069 491h1v3h-1zM1087 535h1v13h-1zM1094 559h1v23h-1zM1100 497h1v65h-1zM1103 416h1v80h-1zM1109 390h1v44h-1zM1113 386h1v3h-1zM1116 353h1v31h-1zM1119 295h1v57h-1zM1138 313h1v41h-1zM1147 357h1v9h-1zM1153 335h1v19h-1zM1160 320h1v43h-1zM1169 352h1v2h-1z"/><path fill="#fc0282" d="M16 65h1v12h-1zM19 69h1v10h-1zM22 81h1v13h-1zM31 74h1v9h-1zM38 72h1v10h-1zM41 84h1v3h-1zM44 88h1v16h-1zM47 105h1v23h-1zM50 129h1v3h-1zM56 133h1v20h-1zM60 153h1v4h-1zM63 158h1v24h-1zM66 184h1v23h-1zM69 207h1v22h-1zM75 191h1v17h-1zM88 174h1v16h-1zM97 175h1v2h-1zM104 175h1v2h-1zM110 172h1v5h-1zM113 185h1v11h-1zM119 177h1v13h-1zM141 157h1v37h-1zM144 195h1v26h-1zM160 185h1v43h-1zM166 208h1v15h-1zM173 217h1v4h-1zM185 210h1v10h-1zM188 226h1v8h-1zM195 230h1v1h-1zM204 222h1v10h-1zM207 225h1v22h-1zM210 248h1v12h-1zM220 228h1v5h-1zM223 239h1v5h-1zM226 232h1v29h-1zM232 253h1v7h-1zM242 216h1v6h-1zM261 190h1v11h-1zM264 193h1v10h-1zM270 193h1v39h-1zM280 197h1v23h-1zM286 220h1v5h-1zM311 156h1v12h-1zM314 169h1v6h-1zM317 176h1v17h-1zM320 191h1v16h-1zM330 174h1v29h-1zM333 204h1v22h-1zM349 184h1v38h-1zM352 223h1v12h-1zM355 236h1v30h-1zM374 224h1v11h-1zM377 237h1v16h-1zM390 213h1v16h-1zM393 230h1v14h-1zM399 247h1v13h-1zM402 261h1v5h-1zM412 223h1v8h-1zM424 217h1v10h-1zM430 223h1v14h-1zM434 253h1v13h-1zM437 269h1v3h-1zM440 273h1v6h-1zM443 279h1v1h-1zM449 270h1v3h-1zM481 202h1v1h-1zM484 204h1v25h-1zM490 234h1v1h-1zM496 227h1v14h-1zM512 182h1v7h-1zM515 191h1v9h-1zM518 200h1v17h-1zM528 221h1v34h-1zM537 254h1v13h-1zM550 261h1v1h-1zM553 263h1v78h-1zM556 343h1v5h-1zM559 350h1v16h-1zM588 251h1v7h-1zM591 259h1v29h-1zM597 285h1v21h-1zM600 307h1v19h-1zM603 313h1v1h-1zM616 273h1v37h-1zM619 311h1v86h-1zM625 430h1v7h-1zM628 437h1v15h-1zM635 447h1v26h-1zM641 467h1v7h-1zM644 475h1v9h-1zM647 485h1v2h-1zM650 489h1v50h-1zM654 540h1v4h-1zM657 545h1v75h-1zM676 463h1v5h-1zM679 469h1v10h-1zM682 479h1v1h-1zM691 443h1v11h-1zM695 455h1v13h-1zM704 421h1v7h-1zM707 428h1v15h-1zM713 429h1v17h-1zM717 455h1v11h-1zM720 468h1v22h-1zM729 387h1v3h-1zM735 387h1v5h-1zM739 393h1v3h-1zM742 395h1v10h-1zM745 406h1v8h-1zM748 415h1v23h-1zM757 413h1v11h-1zM764 417h1v14h-1zM773 415h1v6h-1zM779 419h1v8h-1zM783 427h1v36h-1zM789 432h1v12h-1zM792 447h1v7h-1zM805 412h1v15h-1zM808 427h1v27h-1zM814 442h1v5h-1zM817 449h1v33h-1zM820 483h1v22h-1zM827 497h1v6h-1zM836 487h1v36h-1zM852 456h1v26h-1zM867 434h1v5h-1zM874 433h1v45h-1zM880 468h1v42h-1zM896 493h1v21h-1zM899 517h1v8h-1zM902 525h1v16h-1zM905 515h1v9h-1zM915 508h1v4h-1zM918 513h1v13h-1zM924 525h1v5h-1zM927 532h1v6h-1zM930 539h1v2h-1zM940 511h1v4h-1zM943 507h1v14h-1zM952 511h1v10h-1zM959 515h1v7h-1zM962 522h1v10h-1zM981 471h1v4h-1zM987 465h1v9h-1zM993 461h1v12h-1zM999 484h1v32h-1zM1012 471h1v32h-1zM1025 483h1v27h-1zM1031 513h1v14h-1zM1037 509h1v10h-1zM1040 520h1v1h-1zM1050 494h1v28h-1zM1056 512h1v10h-1zM1065 488h1v6h-1zM1075 489h1v3h-1zM1081 493h1v5h-1zM1084 499h1v49h-1zM1091 535h1v8h-1zM1097 559h1v4h-1zM1106 416h1v19h-1zM1122 295h1v17h-1zM1125 313h1v11h-1zM1128 324h1v16h-1zM1131 323h1v27h-1zM1135 351h1v3h-1zM1141 313h1v45h-1zM1144 359h1v7h-1zM1157 335h1v28h-1zM1163 320h1v36h-1z"/>
<g class="fib" text-anchor="end">
 <text x="1360" y="254.9" fill="#2a2e39" stroke="#2a2e39">0.00% (0.57469)</text>
 <text x="1360" y="376" fill="#2a2e39" stroke="#2a2e39">38.20% (0.56990)</text>
 <text x="1360" y="413" fill="#000" stroke="#000">50.00% (0.56841)</text>
 <text x="1360" y="450" fill="#000" stroke="#000">61.80% (0.56693)</text>
 <text x="1360" y="569.5" fill="#000" stroke="#000">100.00% (0.56214)</text>
</g>
<!-- bubble -->
<path d="M387.4 450.2 H560.3 L598.9 421.4 L573.8 462 V510.7 Q573.8 522.7 561.8 522.7 H387.4 Q375.4 522.7 375.4 510.7 V462.2 Q375.4 450.2 387.4 450.2 Z" fill="#76b4f6" stroke="#4a9af0" stroke-width="1"/>
<g style="font-family:'DejaVu Sans Condensed','DejaVu Sans',sans-serif;font-stretch:condensed;font-weight:bold;font-size:20.8px;fill:#fff;stroke:#76b4f6;stroke-width:0.3px">
 <text x="391" y="481.8" textLength="167" lengthAdjust="spacingAndGlyphs">Resistance turned</text>
 <text x="391" y="502.4" textLength="79" lengthAdjust="spacingAndGlyphs">support?</text>
</g>
<!-- axes -->
<rect x="1372" y="6" width="103" height="697" fill="#fff"/>
<rect x="16" y="657" width="1459" height="46" fill="#fff"/>
<line x1="1371.5" y1="5" x2="1371.5" y2="703" stroke="#585858" stroke-width="1"/>
<line x1="16" y1="656.5" x2="1476" y2="656.5" stroke="#585858" stroke-width="1"/>
<g class="ax">
 <text x="1385.6" y="141.8">0.58000</text>
 <text x="1385.6" y="267.1">0.57500</text>
 <text x="1385.6" y="392.3">0.57000</text>
 <text x="1385.6" y="517.6">0.56500</text>
 <text x="1385.6" y="642.8">0.56000</text>
</g>
<g class="ax" text-anchor="middle" style="letter-spacing:0.8px">
 <text x="320.6" y="686.8">2026</text>
 <text x="717" y="686.8">Feb</text>
 <text x="1093.8" y="686.8">Mar</text>
</g>
<rect x="1377" y="11" width="92.4" height="38" rx="8" fill="#fff" stroke="#efefef" stroke-width="1.5"/>
<text x="1391.2" y="35.9" style="font-family:'DejaVu Sans',sans-serif;font-size:16.6px;fill:#131722">CHF</text>
<!-- title -->
<text x="26" y="32.5" style="font-family:'DejaVu Sans Condensed','DejaVu Sans',sans-serif;font-stretch:condensed;font-size:22px;letter-spacing:1.3px;fill:#131722">CAD/CHF: 4-hour</text>
<!-- TV logo -->
<g fill="#131313">
 <path d="M17.8 737.2 H36.2 V759.4 H26.9 V745.1 H17.8 Z"/>
 <circle cx="43.5" cy="741" r="3.9"/>
 <path d="M51.5 737.2 H62.7 L54.5 759.4 H43.5 Z"/>
 <text x="73.6" y="759.4" style="font-family:'Liberation Sans',sans-serif;font-weight:bold;font-size:31px;letter-spacing:-0.3px">TradingView</text>
</g>
</svg>
</body></html>
